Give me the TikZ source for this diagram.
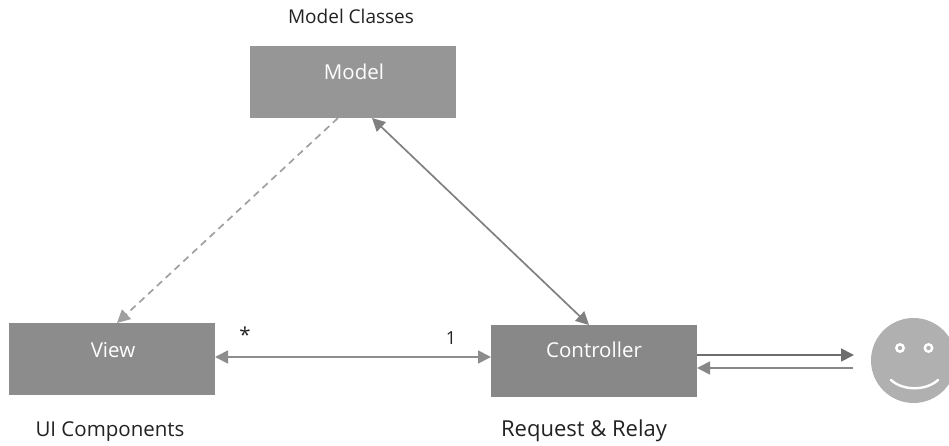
\documentclass[tikz,border=0pt]{standalone}
\usepackage{fontspec}
\setmainfont{Open Sans}
\usetikzlibrary{arrows.meta}
\definecolor{boxA}{HTML}{969696}
\definecolor{boxB}{HTML}{8C8C8C}
\definecolor{boxC}{HTML}{888888}
\definecolor{faceG}{HTML}{B0B0B0}
\definecolor{lineG}{HTML}{808080}
\definecolor{lineL}{HTML}{A0A0A0}
\definecolor{txt}{HTML}{222222}
\tikzset{
  mvcbox/.style={draw=none,minimum width=206pt,minimum height=72pt,inner sep=0pt,anchor=north west},
  boxlabel/.style={text=white,inner sep=0pt,font=\fontsize{20.5}{23}\selectfont},
  caption/.style={text=txt,inner sep=0pt,font=\fontsize{20.5}{23}\selectfont},
  conn/.style={line width=1.7pt,draw=lineG},
  tip/.style={-{Triangle[length=13pt,width=13pt]}},
  twotip/.style={{Triangle[length=13pt,width=13pt]}-{Triangle[length=13pt,width=13pt]}},
}
\begin{document}
\begin{tikzpicture}[x=1pt,y=-1pt]
\useasboundingbox (0,0) rectangle (949,446);
\node[mvcbox,fill=boxA] (model) at (250,46) {};
\node[mvcbox,fill=boxB] (view) at (9,323) {};
\node[mvcbox,fill=boxC] (ctrl) at (491,325) {};
\node[boxlabel] (modelt) at (354,72) {Model};
\node[boxlabel] (viewt) at (113,350) {View};
\node[boxlabel] (ctrlt) at (594,350) {Controller};
\node[caption,font=\fontsize{19}{22}\selectfont] (capm) at (351,16) {Model Classes};
\node[caption] (capv) at (110,432) {UI Components};
\node[caption,font=\fontsize{22}{24}\selectfont] (capc) at (584,431) {Request \& Relay};
\node[caption] (star) at (245,335) {*};
\node[caption,font=\fontsize{18}{22}\selectfont] (one) at (451,338) {1};
% face
\node[circle,fill=faceG,minimum size=85pt,inner sep=0pt] (face) at (913.5,360.5) {};
\node[circle,fill=white,minimum size=10pt,inner sep=0pt] (eyeL) at (900,348) {};
\node[circle,fill=white,minimum size=10pt,inner sep=0pt] (eyeR) at (928.5,348) {};
\node[circle,fill=faceG,minimum size=4.5pt,inner sep=0pt] (pupL) at (900,348) {};
\node[circle,fill=faceG,minimum size=4.5pt,inner sep=0pt] (pupR) at (928.5,348) {};
\coordinate (smileL) at (891,380);
\coordinate (smileR) at (938,380);
\draw[white,line width=2.4pt,line cap=round] (smileL) .. controls (903,391) and (926,391) .. (smileR);
% connectors
\coordinate (mdash) at (338,118);
\coordinate (vdash) at (117,323);
\coordinate (mboth) at (372,118);
\coordinate (cboth) at (589,325);
\coordinate (vr) at (215,357);
\coordinate (cl) at (491,357);
\coordinate (cout) at (697,355);
\coordinate (fout) at (854,355);
\coordinate (fin) at (853,368);
\coordinate (cin) at (697,368);
\draw[conn,draw=lineL,tip,dash pattern=on 7pt off 5pt,line width=1.7pt] (mdash) -- (vdash);
\draw[conn,twotip] (mboth) -- (cboth);
\draw[conn,draw=lineG!90,twotip] (vr) -- (cl);
\draw[conn,draw=lineG!85!black,tip] (cout) -- (fout);
\draw[conn,draw=lineL!85!black,tip] (fin) -- (cin);
\end{tikzpicture}
\end{document}
